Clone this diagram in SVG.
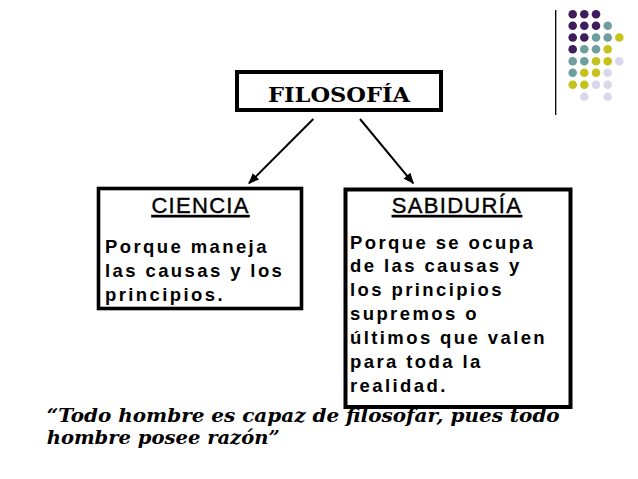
<svg xmlns="http://www.w3.org/2000/svg" width="638" height="479" viewBox="0 0 638 479">
<defs>
<style>
.box{fill:#fff;stroke:#000;}
.head{font-family:"Liberation Sans",Arial,sans-serif;font-size:22px;font-weight:normal;letter-spacing:1.3px;text-decoration:underline;fill:#000;stroke:#000;stroke-width:0.4px;}
.body{font-family:"Liberation Sans",Arial,sans-serif;font-size:18.5px;font-weight:bold;letter-spacing:2.4px;fill:#000;}
.title{font-family:"DejaVu Serif","Liberation Serif",serif;font-size:21px;font-weight:bold;fill:#000;}
.quote{font-family:"DejaVu Serif","Liberation Serif",serif;font-size:18px;font-weight:bold;font-style:italic;fill:#000;}
.conn{stroke:#000;stroke-width:2;fill:none;}
.p{fill:#3f1d5c;}
.t{fill:#6f9e9e;}
.y{fill:#c6c21c;}
.l{fill:#d8d8ec;}
</style>
<marker id="arrow" markerUnits="userSpaceOnUse" markerWidth="11" markerHeight="9" refX="10" refY="4.5" orient="auto">
<path d="M0,0 L11,4.5 L0,9 z" fill="#000"/>
</marker>
</defs>
<rect width="638" height="479" fill="#fff"/>

<g id="decoration">
<line x1="555.7" y1="10" x2="555.7" y2="115" stroke="#000" stroke-width="1.3"/>
<g>
<circle class="p" cx="572.7" cy="14.3" r="4.3"/><circle class="p" cx="584.3" cy="14.3" r="4.3"/><circle class="p" cx="596" cy="14.3" r="4.3"/>
<circle class="p" cx="572.7" cy="25.8" r="4.3"/><circle class="p" cx="584.3" cy="25.8" r="4.3"/><circle class="p" cx="596" cy="25.8" r="4.3"/><circle class="t" cx="607.7" cy="25.8" r="4.3"/>
<circle class="p" cx="572.7" cy="37.5" r="4.3"/><circle class="p" cx="584.3" cy="37.5" r="4.3"/><circle class="t" cx="596" cy="37.5" r="4.3"/><circle class="t" cx="607.7" cy="37.5" r="4.3"/><circle class="y" cx="619.3" cy="37.5" r="4.3"/>
<circle class="p" cx="572.7" cy="49.3" r="4.3"/><circle class="t" cx="584.3" cy="49.3" r="4.3"/><circle class="t" cx="596" cy="49.3" r="4.3"/><circle class="y" cx="607.7" cy="49.3" r="4.3"/>
<circle class="t" cx="572.7" cy="61.2" r="4.3"/><circle class="t" cx="584.3" cy="61.2" r="4.3"/><circle class="y" cx="596" cy="61.2" r="4.3"/><circle class="y" cx="607.7" cy="61.2" r="4.3"/><circle class="l" cx="619.3" cy="61.2" r="4.3"/>
<circle class="t" cx="572.7" cy="72.8" r="4.3"/><circle class="y" cx="584.3" cy="72.8" r="4.3"/><circle class="y" cx="596" cy="72.8" r="4.3"/><circle class="l" cx="607.7" cy="72.8" r="4.3"/>
<circle class="y" cx="572.7" cy="84.7" r="4.3"/><circle class="y" cx="584.3" cy="84.7" r="4.3"/><circle class="l" cx="596" cy="84.7" r="4.3"/><circle class="l" cx="607.7" cy="84.7" r="4.3"/>
<circle class="l" cx="584.3" cy="96.7" r="4.3"/><circle class="l" cx="607.7" cy="96.7" r="4.3"/>
</g>
</g>

<g id="connectors">
<line class="conn" x1="313.3" y1="119" x2="249" y2="183.3" marker-end="url(#arrow)"/>
<line class="conn" x1="360" y1="119" x2="413.3" y2="183.3" marker-end="url(#arrow)"/>
</g>

<g id="filosofia">
<rect class="box" x="237" y="72" width="204" height="38" stroke-width="4"/>
<text class="title" x="339" y="101.7" text-anchor="middle" textLength="142" lengthAdjust="spacingAndGlyphs">FILOSOFÍA</text>
</g>

<g id="ciencia">
<rect class="box" x="98.5" y="188.5" width="203" height="120" stroke-width="3.6"/>
<text class="head" x="200.6" y="213" text-anchor="middle">CIENCIA</text>
<text class="body" x="105" y="252.5">Porque maneja</text>
<text class="body" x="105" y="276.5">las causas y los</text>
<text class="body" x="105" y="300.5">principios.</text>
</g>

<g id="sabiduria">
<rect class="box" x="345.5" y="189.5" width="225" height="217.5" stroke-width="4"/>
<text class="head" x="457" y="213" text-anchor="middle">SABIDURÍA</text>
<text class="body" x="350" y="248.5">Porque se ocupa</text>
<text class="body" x="350" y="272.4">de las causas y</text>
<text class="body" x="350" y="296.3">los principios</text>
<text class="body" x="350" y="320.2">supremos o</text>
<text class="body" x="350" y="344.1">últimos que valen</text>
<text class="body" x="350" y="368">para toda la</text>
<text class="body" x="350" y="391.9">realidad.</text>
</g>

<g id="quote">
<text class="quote" x="46.7" y="421.7" textLength="513" lengthAdjust="spacingAndGlyphs">“Todo hombre es capaz de filosofar, pues todo</text>
<text class="quote" x="46.7" y="444.3" textLength="233" lengthAdjust="spacingAndGlyphs">hombre posee razón”</text>
</g>
</svg>
